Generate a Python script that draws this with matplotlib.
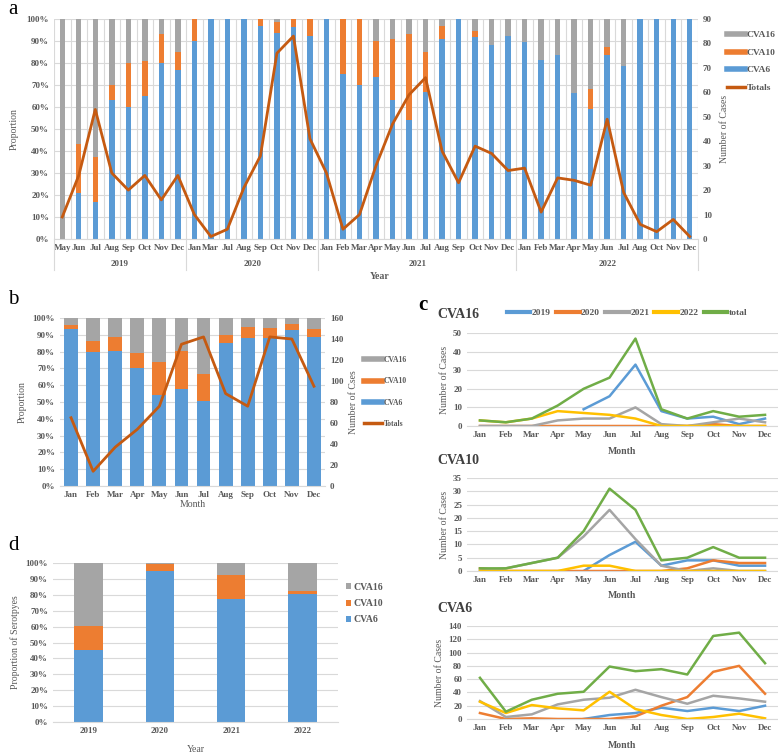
import numpy as np
import matplotlib.pyplot as plt
from matplotlib.lines import Line2D
from matplotlib.transforms import blended_transform_factory

plt.rcParams['font.family'] = ['Liberation Serif', 'DejaVu Serif']
plt.rcParams['font.weight'] = 'bold'

# ---- panel a : monthly proportions 2019-2022 ----
a_years = ['2019', '2020', '2021', '2022']
a_months = [
    ['May', 'Jun', 'Jul', 'Aug', 'Sep', 'Oct', 'Nov', 'Dec'],
    ['Jan', 'Mar', 'Jul', 'Aug', 'Sep', 'Oct', 'Nov', 'Dec'],
    ['Jan', 'Feb', 'Mar', 'Apr', 'May', 'Jun', 'Jul', 'Aug', 'Sep', 'Oct', 'Nov', 'Dec'],
    ['Jan', 'Feb', 'Mar', 'Apr', 'May', 'Jun', 'Jul', 'Aug', 'Oct', 'Nov', 'Dec'],
]
a_cva6 = [0, 21, 17, 63, 60, 65, 80, 77,
          90, 100, 100, 100, 97, 93.5, 96.5, 92.5,
          100, 75, 70, 73.5, 63, 54, 67, 91, 100, 92, 88, 92.5,
          89.5, 81.5, 83.5, 66.5, 59, 83.5, 78.5, 100, 100, 100, 100]
a_cva10 = [0, 22, 20.5, 7, 20, 16, 13, 8,
           10, 0, 0, 0, 3, 5, 3.5, 7.5,
           0, 25, 30, 16.5, 28, 39, 18, 6, 0, 2.5, 0, 0,
           0, 0, 0, 0, 9, 4, 0, 0, 0, 0, 0]
a_cva16 = [100, 57, 62.5, 30, 20, 19, 7, 15,
           0, 0, 0, 0, 0, 1.5, 0, 0,
           0, 0, 0, 10, 9, 7, 15, 3, 0, 5.5, 12, 7.5,
           10.5, 18.5, 16.5, 33.5, 32, 12.5, 21.5, 0, 0, 0, 0]
a_totals = [9, 26, 53, 27, 20, 26, 16, 26,
            10, 1, 4, 21, 34, 76, 83, 41,
            27, 4, 10, 30, 47, 59, 66, 36, 23, 38, 35, 28,
            29, 11, 25, 24, 22, 49, 19, 6, 3, 8, 1]

# ---- panel b : by calendar month ----
months = ['Jan', 'Feb', 'Mar', 'Apr', 'May', 'Jun', 'Jul', 'Aug', 'Sep', 'Oct', 'Nov', 'Dec']
b_cva6 = [93.6, 80, 80.3, 70, 54, 57.7, 50.7, 85, 88, 88, 92.6, 88.5]
b_cva10 = [2, 6.5, 8.4, 9.3, 19.8, 22.8, 16.1, 4.7, 6.4, 6.2, 3.8, 4.9]
b_cva16 = [4.4, 13.5, 11.3, 20.7, 26.2, 19.5, 33.2, 10.3, 5.6, 5.8, 3.6, 6.6]
b_totals = [65, 14, 37, 54, 76, 135, 142, 88, 76, 142, 140, 95]

# ---- panel c : cases per month by year ----
nan = np.nan
c16 = {
    '2019': [nan, nan, nan, nan, 9, 16, 33, 8, 4, 5, 1, 4],
    '2020': [0, 0, 0, 0, 0, 0, 0, 0, 0, 1, 0, 0],
    '2021': [0, 0, 0, 3, 4, 4, 10, 1, 0, 2, 4, 2],
    '2022': [3, 2, 4, 8, 7, 6, 4, 0, 0, 0, 0, 0],
    'total': [3, 2, 4, 11, 20, 26, 47, 9, 4, 8, 5, 6],
}
c10 = {
    '2019': [nan, nan, nan, nan, 0, 6, 11, 2, 4, 4, 2, 2],
    '2020': [1, 0, 0, 0, 0, 0, 0, 0, 1, 4, 3, 3],
    '2021': [0, 1, 3, 5, 13, 23, 12, 2, 0, 1, 0, 0],
    '2022': [0, 0, 0, 0, 2, 2, 0, 0, 0, 0, 0, 0],
    'total': [1, 1, 3, 5, 15, 31, 23, 4, 5, 9, 5, 5],
}
c6 = {
    '2019': [nan, nan, nan, nan, 0, 6, 9, 17, 12, 17, 12, 20],
    '2020': [9, 0, 1, 0, 0, 0, 4, 20, 33, 71, 80, 38],
    '2021': [27, 3, 7, 22, 29, 32, 44, 33, 23, 35, 31, 26],
    '2022': [26, 9, 21, 16, 13, 41, 15, 6, 0, 3, 8, 1],
    'total': [62, 11, 29, 38, 41, 79, 72, 75, 67, 125, 130, 84],
}

# ---- panel d : by year ----
d_years = ['2019', '2020', '2021', '2022']
d_cva6 = [45.5, 95, 77.5, 80.5]
d_cva10 = [15, 4.5, 15, 2]
d_cva16 = [39.5, 0.5, 7.5, 17.5]

BLUE = '#5b9bd5'
ORANGE = '#ed7d31'
GRAY = '#a5a5a5'
YELLOW = '#ffc000'
GREEN = '#70ad47'
BROWN = '#c55a11'
TXT = '#595959'
GRID = '#d9d9d9'

W, H = 778, 753
fig = plt.figure(figsize=(W / 100, H / 100), dpi=100)


def box(l, t, r, b):
    # pixel box -> figure fraction
    return [l / W, 1 - b / H, (r - l) / W, (b - t) / H]


def clean(ax):
    for s in ['top', 'left', 'right']:
        ax.spines[s].set_visible(False)
    ax.spines['bottom'].set_color(GRID)
    ax.tick_params(length=0, colors=TXT)


pct_ticks = np.arange(0, 101, 10)
pct_labels = [f'{v}%' for v in pct_ticks]

# ================= a =================
ax = fig.add_axes(box(54, 19, 698, 239))
n = len(a_cva6)
x = np.arange(n)
c6v = np.array(a_cva6)
c10v = np.array(a_cva10)
c16v = np.array(a_cva16)
ax.bar(x, c6v, 0.33, color=BLUE, zorder=2)
ax.bar(x, c10v, 0.33, bottom=c6v, color=ORANGE, zorder=2)
ax.bar(x, c16v, 0.33, bottom=c6v + c10v, color=GRAY, zorder=2)
ax.set_xlim(-0.5, n - 0.5)
ax.set_ylim(0, 100)
ax.set_yticks(pct_ticks)
ax.set_yticklabels(pct_labels, fontsize=6.5)
ax.set_xticks(x)
ax.set_xticklabels([m for g in a_months for m in g], fontsize=6.5)
ax.grid(axis='y', color=GRID, lw=0.8, zorder=0)
for b in np.arange(-0.5, n, 1):
    ax.axvline(b, color=GRID, lw=0.8, zorder=0)
clean(ax)
ax.set_ylabel('Proportion', fontsize=7, color=TXT, labelpad=6)

trans = blended_transform_factory(ax.transData, ax.transAxes)
start = 0
edges = [-0.5]
for yr, g in zip(a_years, a_months):
    ax.text(start + (len(g) - 1) / 2, -0.115, yr, transform=trans, ha='center', va='center',
            fontsize=6.5, color=TXT)
    start += len(g)
    edges.append(start - 0.5)
for e in edges:
    ax.plot([e, e], [0, -0.14], transform=trans, color=GRID, lw=0.8, clip_on=False)
ax.text(0.505, -0.17, 'Year', transform=ax.transAxes, ha='center', va='center', fontsize=7, color=TXT)

ax2 = ax.twinx()
ax2.plot(x, a_totals, color=BROWN, lw=2)
ax2.set_ylim(0, 90)
ax2.set_yticks(np.arange(0, 91, 10))
ax2.tick_params(labelsize=6.5, length=0, colors=TXT)
for s in ax2.spines.values():
    s.set_visible(False)
ax2.set_ylabel('Number of Cases', fontsize=7, color=TXT, labelpad=6)

handles = [Line2D([], [], color=GRAY, lw=4), Line2D([], [], color=ORANGE, lw=4),
           Line2D([], [], color=BLUE, lw=4), Line2D([], [], color=BROWN, lw=2.5)]
fig.legend(handles, ['CVA16', 'CVA10', 'CVA6', 'Totals'], loc='upper left',
           bbox_to_anchor=(722 / W, 1 - 26 / H), frameon=False, fontsize=6.8,
           handlelength=1.9, handletextpad=0.2, labelspacing=0.95, borderpad=0,
           labelcolor=TXT)

# ================= b =================
ax = fig.add_axes(box(60, 318, 325, 486))
xb = np.arange(12)
b6 = np.array(b_cva6)
b10 = np.array(b_cva10)
b16 = np.array(b_cva16)
ax.bar(xb, b6, 0.63, color=BLUE, zorder=2)
ax.bar(xb, b10, 0.63, bottom=b6, color=ORANGE, zorder=2)
ax.bar(xb, b16, 0.63, bottom=b6 + b10, color=GRAY, zorder=2)
ax.set_xlim(-0.5, 11.5)
ax.set_ylim(0, 100)
ax.set_yticks(pct_ticks)
ax.set_yticklabels(pct_labels, fontsize=6.5)
ax.set_xticks(xb)
ax.set_xticklabels(months, fontsize=6.5)
ax.grid(axis='y', color=GRID, lw=0.8, zorder=0)
clean(ax)
ax.set_ylabel('Proportion', fontsize=7, color=TXT, labelpad=4)
ax.set_xlabel('Month', fontsize=7, color=TXT, labelpad=1)
ax2 = ax.twinx()
ax2.plot(xb, b_totals, color=BROWN, lw=2)
ax2.set_ylim(0, 160)
ax2.set_yticks(np.arange(0, 161, 20))
ax2.tick_params(labelsize=6.5, length=0, colors=TXT)
for s in ax2.spines.values():
    s.set_visible(False)
ax2.set_ylabel('Number of Cses', fontsize=7, color=TXT, labelpad=4)
fig.legend(handles, ['CVA16', 'CVA10', 'CVA6', 'Totals'], loc='upper left',
           bbox_to_anchor=(360 / W, 1 - 352 / H), frameon=False, fontsize=5.5,
           handlelength=2.4, handletextpad=0.2, labelspacing=1.75, borderpad=0,
           labelcolor=TXT)

# ================= c =================
series_colors = {'2019': BLUE, '2020': ORANGE, '2021': GRAY, '2022': YELLOW, 'total': GREEN}
c_panels = [
    ('CVA16', c16, (467, 333, 778, 426), 50, 10, 314, 451),
    ('CVA10', c10, (467, 478, 778, 571), 35, 5, 460, 595),
    ('CVA6', c6, (467, 626, 778, 719), 140, 20, 608, 745),
]
for name, data, pos, ymax, step, ty, my in c_panels:
    ax = fig.add_axes(box(*pos))
    for k, vals in data.items():
        ax.plot(xb, vals, color=series_colors[k], lw=1.8, label=k)
    ax.set_xlim(-0.5, 11.5)
    ax.set_ylim(0, ymax)
    ax.set_yticks(np.arange(0, ymax + 1, step))
    ax.set_xticks(xb)
    ax.set_xticklabels(months, fontsize=6.5)
    ax.tick_params(axis='y', labelsize=6.5)
    ax.grid(axis='y', color=GRID, lw=0.8, zorder=0)
    clean(ax)
    ax.set_ylabel('Number of Cases', fontsize=7, color=TXT, labelpad=3)
    fig.text(437 / W, 1 - ty / H, name, fontsize=10, color='#404040', va='center', ha='left')
    fig.text(622 / W, 1 - my / H, 'Month', fontsize=7, color=TXT, va='center', ha='center')
    if name == 'CVA16':
        leg_h = [Line2D([], [], color=series_colors[k], lw=3) for k in data]
        fig.legend(leg_h, list(data.keys()), loc='center left',
                   bbox_to_anchor=(502 / W, 1 - 313 / H), ncol=5, frameon=False,
                   fontsize=6.8, handlelength=2.5, handletextpad=0.15, columnspacing=0.55,
                   borderpad=0, labelcolor=TXT)

# ================= d =================
ax = fig.add_axes(box(53, 563, 338, 722))
xd = np.arange(4)
d6 = np.array(d_cva6)
d10 = np.array(d_cva10)
d16 = np.array(d_cva16)
ax.bar(xd, d6, 0.4, color=BLUE, zorder=2, label='CVA6')
ax.bar(xd, d10, 0.4, bottom=d6, color=ORANGE, zorder=2, label='CVA10')
ax.bar(xd, d16, 0.4, bottom=d6 + d10, color=GRAY, zorder=2, label='CVA16')
ax.set_xlim(-0.5, 3.5)
ax.set_ylim(0, 100)
ax.set_yticks(pct_ticks)
ax.set_yticklabels(pct_labels, fontsize=6.5)
ax.set_xticks(xd)
ax.set_xticklabels(d_years, fontsize=6.5)
ax.grid(axis='y', color=GRID, lw=0.8, zorder=0)
clean(ax)
ax.set_ylabel('Proportion of Serotpyes', fontsize=7, color=TXT, labelpad=4)
ax.set_xlabel('Year', fontsize=7, color=TXT, labelpad=7)
h, l = ax.get_legend_handles_labels()
fig.legend(h[::-1], l[::-1], loc='upper left', bbox_to_anchor=(341 / W, 1 - 578 / H),
           frameon=False, fontsize=7, handlelength=0.55, handleheight=0.55,
           handletextpad=0.2, labelspacing=0.75, borderpad=0, labelcolor=TXT)

# panel letters
fig.text(8 / W, 1 - 10 / H, 'a', fontsize=15, weight='normal', va='center')
fig.text(8 / W, 1 - 300 / H, 'b', fontsize=15, weight='normal', va='center')
fig.text(418 / W, 1 - 305 / H, 'c', fontsize=15, weight='bold', va='center')
fig.text(8 / W, 1 - 545 / H, 'd', fontsize=15, weight='normal', va='center')

fig.savefig('out.png', dpi=100)
